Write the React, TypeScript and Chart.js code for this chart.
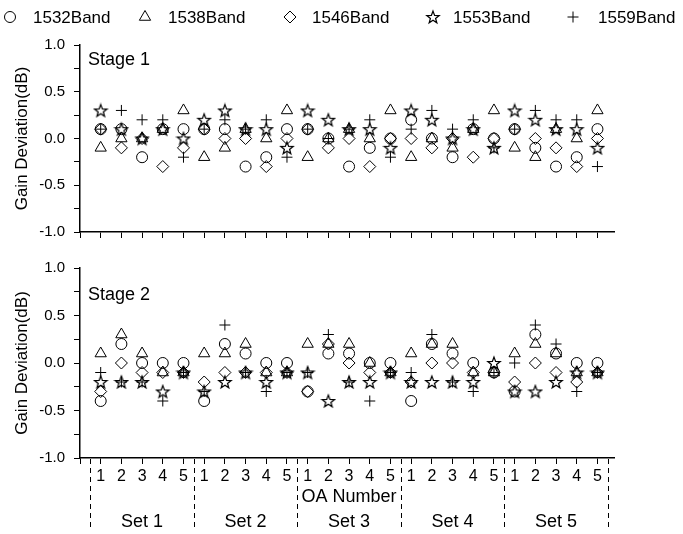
import React, { useEffect, useRef } from 'react';
import { Chart, registerables } from 'chart.js';
import { drawPoint } from 'chart.js/helpers';

Chart.register(...registerables);

// ---------- data ----------
const oaPositions = [1, 2, 3, 4, 5, 6, 7, 8, 9, 10, 11, 12, 13, 14, 15, 16, 17, 18, 19, 20, 21, 22, 23, 24, 25];
const oaTickLabels = ['1', '2', '3', '4', '5'];
const setLabels = ['Set 1', 'Set 2', 'Set 3', 'Set 4', 'Set 5'];
const bandNames = ['1532Band', '1538Band', '1546Band', '1553Band', '1559Band'];
const yTickLabels = ['-1.0', '-0.5', '0.0', '0.5', '1.0'];

const stage1_1532 = [0.1, 0.1, -0.2, 0.1, 0.1, 0.1, 0.1, -0.3, -0.2, 0.1, 0.1, 0.0, -0.3, -0.1, 0.0, 0.2, 0.0, -0.2, 0.1, 0.0, 0.1, -0.1, -0.3, -0.2, 0.1];
const stage1_1538 = [-0.1, 0.0, 0.0, 0.1, 0.3, -0.2, -0.1, 0.1, 0.0, 0.3, -0.2, 0.0, 0.1, 0.0, 0.3, -0.2, 0.0, -0.1, 0.1, 0.3, -0.1, -0.2, 0.1, 0.0, 0.3];
const stage1_1546 = [0.1, -0.1, 0.0, -0.3, -0.1, 0.1, 0.0, 0.0, -0.3, 0.0, 0.1, -0.1, 0.0, -0.3, 0.0, 0.0, -0.1, 0.0, -0.2, 0.0, 0.1, 0.0, -0.1, -0.3, 0.0];
const stage1_1553 = [0.3, 0.1, 0.0, 0.1, 0.0, 0.2, 0.3, 0.1, 0.1, -0.1, 0.3, 0.2, 0.1, 0.1, -0.1, 0.3, 0.2, 0.0, 0.1, -0.1, 0.3, 0.2, 0.1, 0.1, -0.1];
const stage1_1559 = [0.1, 0.3, 0.2, 0.2, -0.2, 0.1, 0.2, 0.1, 0.2, -0.2, 0.1, 0.0, 0.1, 0.2, -0.2, 0.1, 0.3, 0.1, 0.2, -0.1, 0.1, 0.3, 0.2, 0.2, -0.3];

const stage2_1532 = [-0.4, 0.2, 0.0, 0.0, 0.0, -0.4, 0.2, 0.1, 0.0, 0.0, -0.3, 0.1, 0.1, 0.0, 0.0, -0.4, 0.2, 0.1, 0.0, -0.1, -0.3, 0.3, 0.1, 0.0, 0.0];
const stage2_1538 = [0.1, 0.3, 0.1, -0.1, -0.1, 0.1, 0.1, 0.2, -0.1, -0.1, 0.2, 0.2, 0.2, 0.0, -0.1, 0.1, 0.2, 0.2, -0.1, -0.1, 0.1, 0.2, 0.1, -0.1, -0.1];
const stage2_1546 = [-0.3, 0.0, -0.1, -0.1, -0.1, -0.2, -0.1, -0.1, -0.1, -0.1, -0.3, 0.2, 0.0, -0.1, -0.1, -0.2, 0.0, 0.0, -0.1, -0.1, -0.2, 0.0, -0.1, -0.2, -0.1];
const stage2_1553 = [-0.2, -0.2, -0.2, -0.3, -0.1, -0.3, -0.2, -0.1, -0.2, -0.1, -0.1, -0.4, -0.2, -0.2, -0.1, -0.2, -0.2, -0.2, -0.2, 0.0, -0.3, -0.3, -0.2, -0.1, -0.1];
const stage2_1559 = [-0.1, -0.2, -0.2, -0.4, -0.1, -0.3, 0.4, -0.1, -0.3, -0.1, -0.1, 0.3, -0.2, -0.4, -0.1, -0.1, 0.3, -0.2, -0.3, -0.1, 0.0, 0.4, 0.2, -0.3, -0.1];

const stage1Series = [stage1_1532, stage1_1538, stage1_1546, stage1_1553, stage1_1559];
const stage2Series = [stage2_1532, stage2_1538, stage2_1546, stage2_1553, stage2_1559];

// ---------- styles ----------
const FONT = "'Liberation Sans', Arial, sans-serif";
const X_MIN = 0;
const X_MAX = 25.8;

function makeStar(size: number, ro: number, lw: number): HTMLCanvasElement {
  const c = document.createElement('canvas');
  c.width = size;
  c.height = size;
  const ctx = c.getContext('2d')!;
  const cx = size / 2, cy = size / 2 + 0.6, ri = ro * 0.42;
  ctx.beginPath();
  for (let i = 0; i < 10; i++) {
    const r = i % 2 === 0 ? ro : ri;
    const a = -Math.PI / 2 + (i * Math.PI) / 5;
    const px = cx + r * Math.cos(a);
    const py = cy + r * Math.sin(a);
    if (i === 0) ctx.moveTo(px, py);
    else ctx.lineTo(px, py);
  }
  ctx.closePath();
  ctx.strokeStyle = '#000';
  ctx.lineWidth = lw;
  ctx.stroke();
  return c;
}

function markerStyles(star: HTMLCanvasElement) {
  return [
    { pointStyle: 'circle' as any, radius: 5.5 },
    { pointStyle: 'triangle' as any, radius: 6.5 },
    { pointStyle: 'rectRot' as any, radius: 6 },
    { pointStyle: star as any, radius: 6 },
    { pointStyle: 'cross' as any, radius: 5.5 },
  ];
}

function buildDatasets(series: number[][], star: HTMLCanvasElement) {
  const styles = markerStyles(star);
  return series.map((vals, i) => ({
    label: bandNames[i],
    data: vals.map((v, j) => ({ x: oaPositions[j], y: v })),
    pointStyle: styles[i].pointStyle,
    pointRadius: styles[i].radius,
    pointHoverRadius: styles[i].radius,
    pointBorderColor: '#000',
    pointBackgroundColor: 'rgba(0,0,0,0)',
    pointBorderWidth: 1,
    borderColor: '#000',
    backgroundColor: 'rgba(0,0,0,0)',
    showLine: false,
  }));
}

function baseOptions(opts: { padTop: number; xHeight: number; showXLabels: boolean; fixedRight: number }) {
  return {
    animation: false,
    responsive: false,
    maintainAspectRatio: false,
    events: [],
    layout: { padding: { left: 8, right: opts.fixedRight, top: opts.padTop, bottom: 0 } },
    plugins: { legend: { display: false }, tooltip: { enabled: false } },
    scales: {
      x: {
        type: 'linear',
        min: X_MIN,
        max: X_MAX,
        afterBuildTicks: (scale: any) => {
          scale.ticks = [0, ...oaPositions].map((v) => ({ value: v }));
        },
        afterFit: (scale: any) => {
          scale.height = opts.xHeight;
        },
        ticks: {
          display: opts.showXLabels,
          autoSkip: false,
          maxRotation: 0,
          padding: 3,
          color: '#000',
          font: { family: FONT, size: 16 },
          callback: (v: number) => (v >= 1 ? oaTickLabels[(v - 1) % 5] : ''),
        },
        grid: { drawOnChartArea: false, drawTicks: true, tickLength: 6, color: '#000', lineWidth: 1 },
        border: { display: true, color: '#000', width: 1.5 },
      },
      y: {
        type: 'linear',
        min: -1,
        max: 1,
        afterFit: (scale: any) => {
          scale.width = 72;
        },
        ticks: {
          stepSize: 0.25,
          padding: 9,
          color: '#000',
          font: { family: FONT, size: 15 },
          callback: (v: number) => {
            const k = Math.round(v * 2);
            return Math.abs(v * 2 - k) < 1e-6 ? yTickLabels[k + 2] : '';
          },
        },
        grid: { drawOnChartArea: false, drawTicks: true, tickLength: 6, color: '#000', lineWidth: 1 },
        border: { display: true, color: '#000', width: 1.5 },
        title: {
          display: true,
          text: 'Gain Deviation(dB)',
          color: '#000',
          font: { family: FONT, size: 17 },
          padding: { top: 4, bottom: 0 },
        },
      },
    },
  } as any;
}

const stageLabelPlugin = (text: string, y: number) => ({
  id: 'stageLabel' + text.replace(' ', ''),
  afterDraw(chart: any) {
    const ctx = chart.ctx;
    ctx.save();
    ctx.fillStyle = '#000';
    ctx.font = `18px ${FONT}`;
    ctx.textBaseline = 'middle';
    ctx.textAlign = 'left';
    ctx.fillText(text, chart.chartArea.left + 8, y);
    ctx.restore();
  },
});

const legendPlugin = (star: HTMLCanvasElement) => ({
  id: 'customLegend',
  afterDraw(chart: any) {
    const ctx = chart.ctx;
    const markerX = [10, 145, 290, 433, 573];
    const textX = [33, 168, 312, 453, 598];
    const y = 17;
    const styles = markerStyles(star);
    ctx.save();
    styles.forEach((s, i) => {
      ctx.strokeStyle = '#000';
      ctx.fillStyle = 'rgba(0,0,0,0)';
      ctx.lineWidth = 1;
      drawPoint(ctx, { pointStyle: s.pointStyle, radius: s.radius, rotation: 0, borderWidth: 1 } as any, markerX[i], y);
      ctx.fillStyle = '#000';
      ctx.font = `17px ${FONT}`;
      ctx.textBaseline = 'middle';
      ctx.textAlign = 'left';
      ctx.fillText(bandNames[i], textX[i], y + 1);
    });
    ctx.restore();
  },
});

const bottomAnnotations = {
  id: 'bottomAnnotations',
  afterDraw(chart: any) {
    const ctx = chart.ctx;
    const xs = chart.scales.x;
    const bottom = chart.chartArea.bottom;
    ctx.save();
    ctx.strokeStyle = '#000';
    ctx.lineWidth = 1;
    ctx.setLineDash([5, 4]);
    for (let k = 0; k <= setLabels.length; k++) {
      const px = Math.round(xs.getPixelForValue(0.5 + 5 * k)) + 0.5;
      ctx.beginPath();
      ctx.moveTo(px, bottom + 1);
      ctx.lineTo(px, bottom + 71);
      ctx.stroke();
    }
    ctx.setLineDash([]);
    ctx.fillStyle = '#000';
    ctx.textAlign = 'center';
    ctx.textBaseline = 'middle';
    ctx.font = `18px ${FONT}`;
    ctx.fillText('OA Number', xs.getPixelForValue(13), bottom + 39);
    setLabels.forEach((s, k) => {
      ctx.fillText(s, xs.getPixelForValue(3 + 5 * k), bottom + 64);
    });
    ctx.restore();
  },
};

export default function App() {
  const topRef = useRef<HTMLCanvasElement>(null);
  const botRef = useRef<HTMLCanvasElement>(null);

  useEffect(() => {
    document.body.style.margin = '0';
    const star = makeStar(16, 6.5, 1.25);
    const top = new Chart(topRef.current!, {
      type: 'scatter',
      data: { datasets: buildDatasets(stage1Series, star) as any },
      options: baseOptions({ padTop: 45, xHeight: 12, showXLabels: false, fixedRight: 69 }),
      plugins: [legendPlugin(star), stageLabelPlugin('Stage 1', 60)],
    });
    const bot = new Chart(botRef.current!, {
      type: 'scatter',
      data: { datasets: buildDatasets(stage2Series, star) as any },
      options: baseOptions({ padTop: 15, xHeight: 76, showXLabels: true, fixedRight: 69 }),
      plugins: [stageLabelPlugin('Stage 2', 45), bottomAnnotations],
    });
    return () => {
      top.destroy();
      bot.destroy();
    };
  }, []);

  return (
    <div style={{ position: 'absolute', left: 0, top: 0, width: 683, height: 534, background: '#fff' }}>
      <canvas ref={topRef} width={683} height={250} style={{ position: 'absolute', left: 0, top: 0, width: 683, height: 250 }} />
      <canvas ref={botRef} width={683} height={284} style={{ position: 'absolute', left: 0, top: 250, width: 683, height: 284 }} />
    </div>
  );
}
